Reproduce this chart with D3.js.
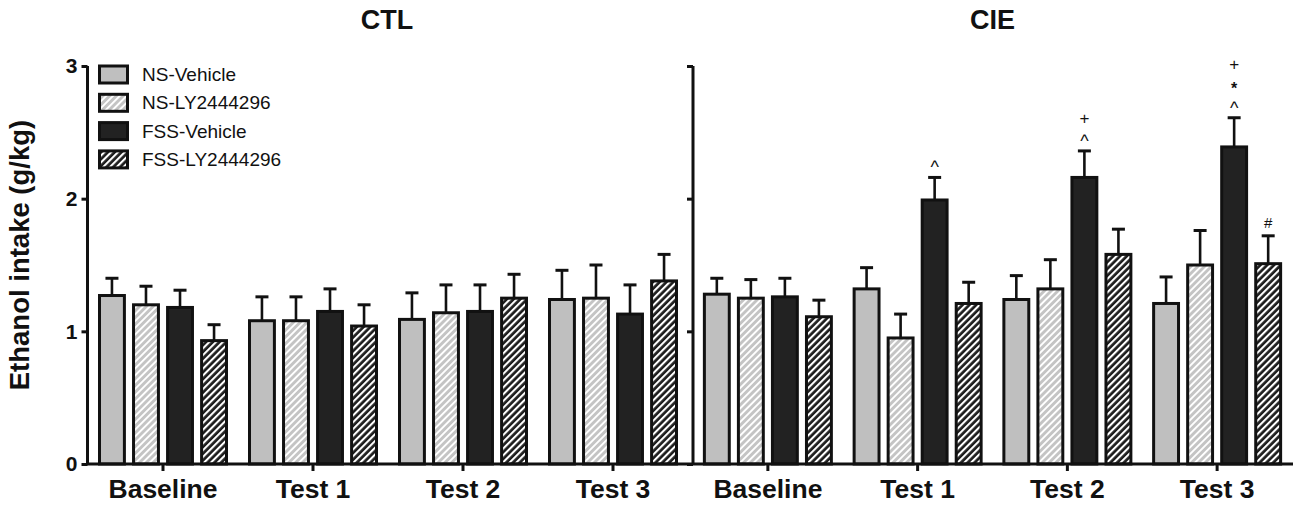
<!DOCTYPE html>
<meta charset="utf-8">
<head>
    <style>
        body {margin: 0; background: #fff;}
        text {font-family: "Liberation Sans", Arial, sans-serif; fill: #111;}
        .bold {font-weight: bold;}
    </style>
    <script src="https://d3js.org/d3.v7.min.js"></script>
</head>
<body>
<script>

    // ---- data ----
    var categories = ["Baseline", "Test 1", "Test 2", "Test 3"],
        series = ["NS-Vehicle", "NS-LY2444296", "FSS-Vehicle", "FSS-LY2444296"],
        panels = ["CTL", "CIE"],
        yTicks = [0, 1, 2, 3];

    // means, one array per series, in category order
    var ctlMeans = [
        [1.27, 1.08, 1.09, 1.24],
        [1.20, 1.08, 1.14, 1.25],
        [1.18, 1.15, 1.15, 1.13],
        [0.93, 1.04, 1.25, 1.38]
    ];
    var ctlSem = [
        [0.13, 0.18, 0.20, 0.22],
        [0.14, 0.18, 0.21, 0.25],
        [0.13, 0.17, 0.20, 0.22],
        [0.12, 0.16, 0.18, 0.20]
    ];
    var cieMeans = [
        [1.28, 1.32, 1.24, 1.21],
        [1.25, 0.95, 1.32, 1.50],
        [1.26, 1.99, 2.16, 2.39],
        [1.11, 1.21, 1.58, 1.51]
    ];
    var cieSem = [
        [0.12, 0.16, 0.18, 0.20],
        [0.14, 0.18, 0.22, 0.26],
        [0.14, 0.17, 0.20, 0.22],
        [0.125, 0.16, 0.19, 0.21]
    ];

    // significance marks (stacked from the error bar upward)
    var marks = [
        {panel: "CIE", cat: "Test 1", s: "FSS-Vehicle", m: ["^"]},
        {panel: "CIE", cat: "Test 2", s: "FSS-Vehicle", m: ["^", "+"]},
        {panel: "CIE", cat: "Test 3", s: "FSS-Vehicle", m: ["^", "*", "+"]},
        {panel: "CIE", cat: "Test 3", s: "FSS-LY2444296", m: ["#"]}
    ];

    var W = 1300, H = 507;

    var svg = d3.select("body").append("svg")
        .attr("width", W)
        .attr("height", H);

    // patterns
    var defs = svg.append("defs");
    function hatch(id, bg, lw) {
        var p = defs.append("pattern")
            .attr("id", id)
            .attr("patternUnits", "userSpaceOnUse")
            .attr("width", 4.8).attr("height", 4.8)
            .attr("patternTransform", "rotate(45)");
        p.append("rect").attr("width", 4.8).attr("height", 4.8).attr("fill", bg);
        p.append("rect").attr("x", 0).attr("width", lw).attr("height", 4.8).attr("fill", "#fff");
    }
    hatch("hLight", "#c4c4c4", 1.9);
    hatch("hDark", "#1c1c1c", 2.1);

    var fills = {
        "NS-Vehicle": "#bfbfbf",
        "NS-LY2444296": "url(#hLight)",
        "FSS-Vehicle": "#222",
        "FSS-LY2444296": "url(#hDark)"
    };

    var y = d3.scaleLinear().domain([0, 3]).range([464, 66]);

    var x0 = {
        CTL: d3.scaleBand().domain(categories).range([88, 688]),
        CIE: d3.scaleBand().domain(categories).range([693, 1292])
    };
    var x1 = d3.scaleBand().domain(series).range([-65, 65]).paddingInner(0.18);

    var means = {CTL: ctlMeans, CIE: cieMeans},
        sems = {CTL: ctlSem, CIE: cieSem};

    function cx(panel, cat) { return x0[panel](cat) + x0[panel].bandwidth() / 2; }

    panels.forEach(function(panel) {
        var rows = [];
        series.forEach(function(s, si) {
            categories.forEach(function(c, ci) {
                rows.push({s: s, c: c, v: means[panel][si][ci], e: sems[panel][si][ci]});
            });
        });

        var g = svg.append("g");

        // error bars (upper only)
        g.selectAll("line.err").data(rows).enter().append("line")
            .attr("x1", function(d) { return cx(panel, d.c) + x1(d.s) + x1.bandwidth() / 2; })
            .attr("x2", function(d) { return cx(panel, d.c) + x1(d.s) + x1.bandwidth() / 2; })
            .attr("y1", function(d) { return y(d.v); })
            .attr("y2", function(d) { return y(d.v + d.e); })
            .attr("stroke", "#111").attr("stroke-width", 2.6);
        g.selectAll("line.cap").data(rows).enter().append("line")
            .attr("x1", function(d) { return cx(panel, d.c) + x1(d.s) + x1.bandwidth() / 2 - 6.5; })
            .attr("x2", function(d) { return cx(panel, d.c) + x1(d.s) + x1.bandwidth() / 2 + 6.5; })
            .attr("y1", function(d) { return y(d.v + d.e); })
            .attr("y2", function(d) { return y(d.v + d.e); })
            .attr("stroke", "#111").attr("stroke-width", 3);

        g.selectAll("rect").data(rows).enter().append("rect")
            .attr("x", function(d) { return cx(panel, d.c) + x1(d.s) + 1.5; })
            .attr("width", x1.bandwidth() - 3)
            .attr("y", function(d) { return y(d.v); })
            .attr("height", function(d) { return y(0) - y(d.v); })
            .attr("fill", function(d) { return fills[d.s]; })
            .attr("stroke", "#111").attr("stroke-width", 3);

        // category ticks + labels
        var xAxis = d3.axisBottom(x0[panel]).tickSize(7).tickPadding(8);
        var ax = svg.append("g").attr("transform", "translate(0," + y(0) + ")").call(xAxis);
        ax.select(".domain").remove();
        ax.selectAll("line").attr("stroke", "#111").attr("stroke-width", 3);
        ax.selectAll("text").attr("class", "bold")
            .attr("font-size", 26.5).attr("font-family", "Liberation Sans, Arial, sans-serif")
            .attr("fill", "#111").attr("dy", "0.7em");

        // panel title
        svg.append("text").attr("class", "bold")
            .attr("x", (x0[panel].range()[0] + x0[panel].range()[1]) / 2 + (panel == "CTL" ? -1 : 0))
            .attr("y", 29)
            .attr("text-anchor", "middle")
            .attr("font-size", 27)
            .text(panel);
    });

    // baseline across both panels
    svg.append("line")
        .attr("x1", 86).attr("x2", 1293)
        .attr("y1", y(0)).attr("y2", y(0))
        .attr("stroke", "#111").attr("stroke-width", 3);

    // left y axis
    var yAxis = d3.axisLeft(y).tickValues(yTicks).tickFormat(d3.format("d")).tickSize(6).tickPadding(4);
    var yl = svg.append("g").attr("transform", "translate(87.5,0)").call(yAxis);
    yl.select(".domain").attr("stroke", "#111").attr("stroke-width", 3).attr("d", "M0," + y(3) + "V" + y(0));
    yl.selectAll("line").attr("stroke", "#111").attr("stroke-width", 3);
    yl.selectAll("text").attr("class", "bold").attr("font-size", 21)
        .attr("font-family", "Liberation Sans, Arial, sans-serif").attr("fill", "#111");

    // right panel axis, ticks only
    var yr = svg.append("g").attr("transform", "translate(693,0)")
        .call(d3.axisLeft(y).tickValues(yTicks).tickFormat("").tickSize(6));
    yr.select(".domain").attr("stroke", "#111").attr("stroke-width", 3).attr("d", "M0," + y(3) + "V" + y(0));
    yr.selectAll("line").attr("stroke", "#111").attr("stroke-width", 3);

    // y label
    svg.append("text").attr("class", "bold")
        .attr("transform", "translate(29,255) rotate(-90)")
        .attr("text-anchor", "middle")
        .attr("font-size", 27.5)
        .text("Ethanol intake (g/kg)");

    // significance marks, stacked above the error cap
    var glyphSize = {"^": 18, "*": 16, "+": 17, "#": 15},
        glyphOff = {"^": 0.5, "*": 0.55, "+": 0.33, "#": 0.35};
    marks.forEach(function(mk) {
        var si = series.indexOf(mk.s), ci = categories.indexOf(mk.cat);
        var top = y(means[mk.panel][si][ci] + sems[mk.panel][si][ci]);
        var xc = cx(mk.panel, mk.cat) + x1(mk.s) + x1.bandwidth() / 2;
        mk.m.forEach(function(t, i) {
            svg.append("text")
                .attr("x", xc)
                .attr("y", top - 13 - 20 * i + glyphOff[t] * glyphSize[t])
                .attr("text-anchor", "middle")
                .attr("font-size", glyphSize[t])
                .attr("font-weight", t == "*" ? "bold" : "normal")
                .text(t);
        });
    });

    // legend
    var leg = svg.append("g").attr("transform", "translate(99,0)");
    series.forEach(function(s, i) {
        var cy = 74.5 + i * 28.3;
        leg.append("rect")
            .attr("x", 0.5).attr("y", cy - 8.5)
            .attr("width", 28).attr("height", 17)
            .attr("fill", fills[s]).attr("stroke", "#111").attr("stroke-width", 3);
        leg.append("text")
            .attr("x", 43).attr("y", cy + 6.5)
            .attr("font-size", 19)
            .text(s);
    });

</script>
</body>
